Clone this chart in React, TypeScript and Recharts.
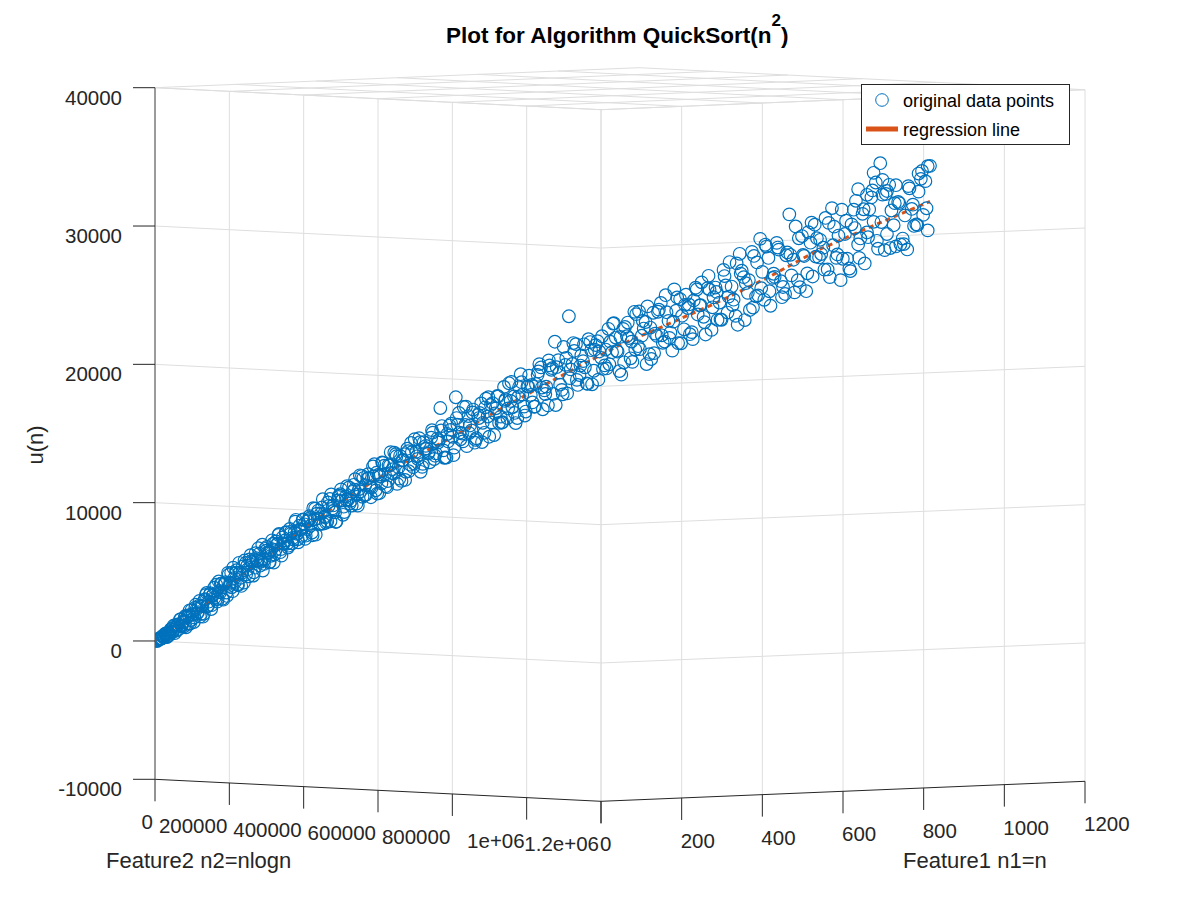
import React from 'react';
import { ScatterChart, Scatter, XAxis, YAxis, ReferenceLine, ReferenceDot, Legend } from 'recharts';

const FONT = '"Liberation Sans", Arial, Helvetica, sans-serif';
const INK = '#262626';
const GRID = '#dedede';
const BLUE = '#0072BD';
const ORANGE = '#D95319';

// input size n (feature1) and measured u(n); feature2 is n^2
const sizesLow = [
  2, 5, 8, 11, 14, 17, 20, 23, 26, 29,
  32, 35, 38, 41, 44, 47, 50, 53, 56, 59,
  62, 65, 68, 71, 74, 77, 80, 83, 86, 89,
  92, 95, 98, 101, 104, 107, 110, 113, 116, 119,
  122, 125, 128, 131, 134, 137, 140, 143, 146, 149,
  152, 155, 158, 161, 164, 167, 170, 173, 176, 179,
  182, 185, 188, 191, 194, 197, 200,
];
const runtimeLow = [
  20, 10, 93, 186, 139, 166, 357, 313, 511, 251,
  572, 475, 818, 623, 1049, 516, 944, 1132, 802, 1491,
  1062, 1253, 985, 1728, 1621, 1155, 2130, 1424, 1860, 1275,
  2312, 2209, 1986, 2790, 1840, 2405, 1850, 2900, 3350, 2440,
  3210, 2180, 3150, 3720, 2850, 2705, 4160, 3370, 4020, 2835,
  4015, 3345, 4770, 3820, 4765, 3435, 4385, 4765, 3910, 5480,
  4395, 4765, 4040, 5455, 5260, 4490, 6010,
];

const sizesLow2 = [
  3, 6, 9, 12, 15, 18, 21, 24, 27, 30,
  33, 36, 39, 42, 45, 48, 51, 54, 57, 60,
  63, 66, 69, 72, 75, 78, 81, 84, 87, 90,
  93, 96, 99, 102, 105, 108, 111, 114, 117, 120,
  123, 126, 129, 132, 135, 138, 141, 144, 147, 150,
  153, 156, 159, 162, 165, 168, 171, 174, 177, 180,
  183, 186, 189, 192, 195, 198,
];
const runtimeLow2 = [
  43, 5, 147, 138, 152, 316, 245, 462, 271, 501,
  343, 686, 820, 585, 771, 1098, 686, 1095, 1005, 1495,
  1006, 1318, 1610, 913, 1676, 1780, 1164, 2140, 1795, 1601,
  2518, 1874, 2432, 1650, 2430, 1640, 2845, 3215, 2385, 2715,
  3325, 2455, 3225, 2998, 3930, 2900, 3475, 4006, 2900, 3912,
  4099, 3100, 4619, 4048, 3715, 5140, 4094, 4950, 3858, 4761,
  3801, 5219, 5637, 4630, 5002, 5707,
];

const sizesA = [
  204, 208, 212, 216, 220, 224, 228, 232, 236, 240,
  244, 248, 252, 256, 260, 264, 268, 272, 276, 280,
  284, 288, 292, 296, 300, 304, 308, 312, 316, 320,
  324, 328, 332, 336, 340, 344, 348, 352, 356, 360,
  364, 368, 372, 376, 380, 384, 388, 392, 396, 400,
  404, 408, 412, 416, 420, 424, 428, 432, 436, 440,
  444, 448, 452, 456, 460, 464, 468, 472, 476, 480,
  484, 488, 492, 496, 500, 504, 508, 512, 516, 520,
  524, 528, 532, 536, 540, 544, 548, 552, 556, 560,
  564, 568, 572, 576, 580, 584, 588, 592, 596, 600,
  604, 608, 612, 616, 620, 624, 628, 632, 636, 640,
  644, 648, 652, 656, 660, 664, 668, 672, 676, 680,
  684, 688, 692, 696, 700, 704, 708, 712, 716, 720,
  724, 728, 732, 736, 740, 744, 748, 752, 756, 760,
  764, 768, 772, 776, 780, 784, 788, 792, 796, 800,
  804, 808, 812, 816, 820, 824, 828, 832, 836, 840,
  844, 848, 852, 856, 860, 864, 868, 872, 876, 880,
  884, 888, 892, 896, 900, 904, 908, 912, 916, 920,
  924, 928, 932, 936, 940, 944, 948, 952, 956, 960,
  964, 968, 972, 976, 980, 984, 988, 992, 996, 1000,
];
const runtimeA = [
  5524, 5104, 5658, 6118, 5609, 5370, 6321, 6139, 5945, 6823,
  6367, 6816, 6199, 7269, 7049, 6817, 7873, 6831, 7616, 7513,
  8098, 7366, 8198, 7840, 8780, 7597, 8548, 8956, 8225, 9411,
  8757, 8380, 10015, 9331, 9040, 9899, 10351, 8863, 10182, 9979,
  9881, 11028, 9667, 10718, 11672, 10260, 11469, 10869, 12356, 10621,
  11755, 11120, 12408, 10845, 12418, 12151, 13227, 12275, 11300, 13231,
  13628, 12470, 12292, 13408, 14394, 12315, 13603, 13269, 14432, 12882,
  14364, 16570, 13509, 12990, 15305, 14491, 17350, 16219, 14727, 15356,
  15993, 14958, 14070, 16077, 16906, 14787, 15967, 16810, 14630, 17453,
  15963, 18108, 15856, 17100, 17425, 15864, 19038, 16692, 18177, 17538,
  16691, 18997, 19541, 17879, 16797, 19371, 21400, 20073, 17924, 19734,
  23250, 19807, 21237, 19009, 20014, 18400, 21399, 19324, 21470, 20265,
  19721, 22367, 20678, 21742, 19322, 22371, 21854, 20252, 23614, 21130,
  21895, 22885, 20568, 23560, 21890, 24276, 21488, 22987, 20839, 23732,
  24573, 22390, 23933, 22190, 25409, 24128, 23310, 25383, 22371, 25436,
  24354, 26720, 23639, 25524, 23404, 27900, 26216, 25082, 28053, 24845,
  29000, 24597, 27626, 26189, 28725, 25958, 25039, 30800, 27524, 26044,
  29244, 25263, 28774, 30077, 27717, 28427, 26858, 31300, 27707, 26100,
  29442, 26951, 31207, 28698, 30920, 29577, 32122, 33200, 34600, 28324,
  33050, 30133, 31821, 29179, 28400, 31333, 30219, 33521, 33358, 34470,
];

const sizesB = [
  206, 210, 214, 218, 222, 226, 230, 234, 238, 242,
  246, 250, 254, 258, 262, 266, 270, 274, 278, 282,
  286, 290, 294, 298, 302, 306, 310, 314, 318, 322,
  326, 330, 334, 338, 342, 346, 350, 354, 358, 362,
  366, 370, 374, 378, 382, 386, 390, 394, 398, 402,
  406, 410, 414, 418, 422, 426, 430, 434, 438, 442,
  446, 450, 454, 458, 462, 466, 470, 474, 478, 482,
  486, 490, 494, 498, 502, 506, 510, 514, 518, 522,
  526, 530, 534, 538, 542, 546, 550, 554, 558, 562,
  566, 570, 574, 578, 582, 586, 590, 594, 598, 602,
  606, 610, 614, 618, 622, 626, 630, 634, 638, 642,
  646, 650, 654, 658, 662, 666, 670, 674, 678, 682,
  686, 690, 694, 698, 702, 706, 710, 714, 718, 722,
  726, 730, 734, 738, 742, 746, 750, 754, 758, 762,
  766, 770, 774, 778, 782, 786, 790, 794, 798, 802,
  806, 810, 814, 818, 822, 826, 830, 834, 838, 842,
  846, 850, 854, 858, 862, 866, 870, 874, 878, 882,
  886, 890, 894, 898, 902, 906, 910, 914, 918, 922,
  926, 930, 934, 938, 942, 946, 950, 954, 958, 962,
  966, 970, 974, 978, 982, 986, 990, 994, 998,
];
const runtimeB = [
  4771, 5789, 6506, 5524, 4892, 6461, 6180, 5499, 7068, 6037,
  6757, 7528, 5948, 6819, 7640, 6662, 7684, 7106, 8528, 6901,
  7824, 8548, 7371, 8494, 8088, 9353, 7437, 9182, 8946, 8231,
  8297, 9502, 10348, 9154, 8380, 10247, 9894, 9060, 10927, 9674,
  10522, 11429, 9517, 10545, 11513, 10322, 11530, 10819, 12508, 10387,
  11637, 12607, 10916, 12446, 11876, 13336, 11087, 13107, 12818, 11959,
  12000, 13372, 14323, 12895, 11956, 14099, 13651, 12644, 14786, 13289,
  14242, 15265, 12998, 14161, 15444, 13708, 15371, 14315, 16658, 13817,
  15312, 16466, 14391, 16225, 15510, 17260, 14505, 16935, 16560, 15505,
  15556, 17221, 18377, 16642, 15504, 18105, 17562, 16338, 18940, 17002,
  18339, 19776, 16513, 18150, 19687, 17624, 19561, 18299, 21036, 17673,
  19412, 20750, 18289, 20427, 19566, 21605, 18344, 21182, 20721, 19460,
  19499, 21438, 22778, 20717, 19061, 22516, 21715, 19995, 23449, 20920,
  22410, 24016, 20216, 22052, 23788, 21399, 23609, 22140, 25271, 21387,
  23368, 24889, 22040, 24482, 23473, 25800, 22033, 25280, 24732, 23099,
  23111, 25592, 27294, 24575, 22768, 26681, 25783, 23846, 27759, 24912,
  26615, 28449, 24172, 26266, 28239, 25543, 28046, 26390, 29933, 25552,
  27806, 29539, 26333, 29106, 27965, 30580, 26304, 29959, 29323, 27648,
  27663, 30148, 31854, 29139, 27334, 31249, 30354, 28419, 32334, 29489,
  31195, 33031, 28758, 30854, 32820, 30106, 32591, 30917, 34442,
];

const sizesC = [
  201, 205, 209, 213, 217, 221, 225, 229, 233, 237,
  241, 245, 249, 253, 257, 261, 265, 269, 273, 277,
  281, 285, 289, 293, 297, 301, 305, 309, 313, 317,
  321, 325, 329, 333, 337, 341, 345, 349, 353, 357,
  361, 365, 369, 373, 377, 381, 385, 389, 393, 397,
  401, 405, 409, 413, 417, 421, 425, 429, 433, 437,
  441, 445, 449, 453, 457, 461, 465, 469, 473, 477,
  481, 485, 489, 493, 497, 501, 505, 509, 513, 517,
  521, 525, 529, 533, 537, 541, 545, 549, 553, 557,
  561, 565, 569, 573, 577, 581, 585, 589, 593, 597,
];
const runtimeC = [
  5575, 4542, 6160, 5577, 5245, 6762, 5681, 6600, 5469, 6438,
  5457, 6977, 7447, 6418, 6838, 7609, 6531, 7503, 7225, 8397,
  7119, 7842, 8516, 7139, 8412, 8656, 7400, 9325, 8609, 8194,
  9998, 8684, 9769, 8395, 9541, 8346, 10153, 10700, 9447, 9933,
  10840, 9528, 10675, 10323, 11711, 10158, 11007, 11796, 10124, 11633,
  11892, 10412, 12642, 11791, 11291, 13381, 11831, 13081, 11462, 12782,
  11370, 13442, 14044, 12545, 13077, 14098, 12530, 13833, 13385, 14968,
  13120, 14073, 14956, 12969, 14692, 14985, 13164, 15847, 14791, 14159,
  16673, 14767, 16262, 14271, 15851, 14115, 16630, 17360, 15540, 16185,
  17425, 15521, 17101, 16557, 18477, 16234, 17390, 18460, 16048, 18140,
];

const sizesD = [
  601, 605, 609, 613, 617, 621, 625, 629, 633, 637,
  641, 645, 649, 653, 657, 661, 665, 669, 673, 677,
  681, 685, 689, 693, 697, 701, 705, 709, 713, 717,
  721, 725, 729, 733, 737, 741, 745, 749, 753, 757,
  761, 765, 769, 773, 777, 781, 785, 789, 793, 797,
  801, 805, 809, 813, 817, 821, 825, 829, 833, 837,
  841, 845, 849, 853, 857, 861, 865, 869, 873, 877,
  881, 885, 889, 893, 897, 901, 905, 909, 913, 917,
  921, 925, 929, 933, 937, 941, 945, 949, 953, 957,
  961, 965, 969, 973, 977, 981, 985, 989, 993, 997,
];
const runtimeD = [
  18268, 16705, 19242, 18079, 17616, 20053, 19490, 16827, 19165, 17602,
  20239, 18777, 21316, 18654, 19693, 21231, 18370, 20809, 20848, 18686,
  21825, 20864, 19803, 22743, 20782, 21791, 19956, 22835, 21460, 20889,
  23652, 22958, 19848, 22489, 20644, 23637, 21938, 24839, 21759, 22935,
  24686, 21377, 24163, 24189, 21686, 25277, 24154, 22916, 26279, 24006,
  25118, 23135, 26276, 24793, 24184, 27202, 26470, 23113, 26005, 24023,
  27291, 25434, 28578, 25221, 26490, 28388, 24802, 27840, 27879, 25167,
  29083, 27882, 26555, 30229, 27777, 28994, 26843, 30228, 28617, 27952,
  31201, 30401, 26766, 29882, 27732, 31252, 29237, 32622, 28987, 30347,
  32382, 28478, 31729, 31740, 28782, 32978, 31639, 30164, 34090, 31400,
];

// repeated runs near the top end
const sizesTop = [936, 944, 950, 958, 962, 970, 990, 998];
const runtimeTop = [32700, 32300, 33900, 33400, 32600, 28600, 33900, 29800];

// fitted regression values
const fitN = [0, 50, 100, 150, 200, 250, 300, 350, 400, 450, 500, 550, 600, 650, 700, 750, 800, 850, 900, 950, 1000];
const fitU = [0, 900, 2150, 3550, 5050, 6600, 8200, 9800, 11400, 12950, 14350, 16050, 17730, 19450, 21190, 22700, 24300, 26150, 28280, 30090, 31900];

const uTicks = [-10000, 0, 10000, 20000, 30000, 40000];
const f1Ticks = [0, 200, 400, 600, 800, 1000, 1200];
const f1Labels = ['0', '200', '400', '600', '800', '1000', '1200'];
const f2Ticks = [0, 200000, 400000, 600000, 800000, 1000000, 1200000];
const f2Labels = ['0', '200000', '400000', '600000', '800000', '1e+06', '1.2e+06'];

const F1_MAX = 1200;
const F2_MAX = 1200000;
const U_MIN = -10000;
const U_MAX = 40000;

// 3d view: how far (in px) each floor edge runs across and drops on screen
const PX_PER_U = 0.013832;
const F1_RUN = 484;
const F1_DROP = -20;
const F2_RUN = 446;
const F2_DROP = 22;
const TICK_U = 22 / PX_PER_U;

const projX = (f1: number, f2: number) => (F1_RUN * f1) / F1_MAX + (F2_RUN * f2) / F2_MAX;
const projU = (f1: number, f2: number, u: number) =>
  u - ((F2_DROP * f2) / F2_MAX + (F1_DROP * f1) / F1_MAX) / PX_PER_U;
const pt = (f1: number, f2: number, u: number) => ({ x: projX(f1, f2), y: projU(f1, f2, u) });

const allSizes = [...sizesLow, ...sizesLow2, ...sizesA, ...sizesB, ...sizesC, ...sizesD, ...sizesTop];
const allRuntime = [...runtimeLow, ...runtimeLow2, ...runtimeA, ...runtimeB, ...runtimeC, ...runtimeD, ...runtimeTop];
const pointData = allSizes.map((n, i) => pt(n, n * n, allRuntime[i]));
const fitData = fitN.map((n, i) => pt(n, n * n, fitU[i]));

type Seg = [{ x: number; y: number }, { x: number; y: number }];

const gridSegs: Seg[] = [];
uTicks.filter((u) => u > U_MIN).forEach((u) => {
  gridSegs.push([pt(0, 0, u), pt(0, F2_MAX, u)]);
  gridSegs.push([pt(0, F2_MAX, u), pt(F1_MAX, F2_MAX, u)]);
});
f2Ticks.forEach((s) => {
  gridSegs.push([pt(0, s, U_MIN), pt(0, s, U_MAX)]);
  gridSegs.push([pt(0, s, U_MAX), pt(F1_MAX, s, U_MAX)]);
});
f1Ticks.forEach((t) => {
  gridSegs.push([pt(t, F2_MAX, U_MIN), pt(t, F2_MAX, U_MAX)]);
  gridSegs.push([pt(t, 0, U_MAX), pt(t, F2_MAX, U_MAX)]);
});

const axisSegs: Seg[] = [
  [pt(0, 0, U_MIN), pt(0, F2_MAX, U_MIN)],
  [pt(0, F2_MAX, U_MIN), pt(F1_MAX, F2_MAX, U_MIN)],
];
f2Ticks.forEach((s) => axisSegs.push([pt(0, s, U_MIN), pt(0, s, U_MIN - TICK_U)]));
f1Ticks.forEach((t) => axisSegs.push([pt(t, F2_MAX, U_MIN), pt(t, F2_MAX, U_MIN - TICK_U)]));

const renderUTick = (props: any) => (
  <text x={props.x} y={props.y + 17} textAnchor="end" fontSize={20.5} fontFamily={FONT} fill={INK}>
    {props.payload.value}
  </text>
);

const renderLegend = () => (
  <div style={{ width: 209, height: 61, boxSizing: 'border-box', border: `1px solid ${INK}`, background: '#fff' }}>
    <svg width={207} height={59} style={{ display: 'block' }}>
      <circle cx={20} cy={15} r={6.3} fill="none" stroke={BLUE} strokeWidth={1} />
      <text x={41} y={21.5} fontSize={18} fontFamily={FONT} fill="#000">original data points</text>
      <line x1={4} x2={36} y1={44} y2={44} stroke={ORANGE} strokeWidth={5} />
      <text x={41} y={50.5} fontSize={18} fontFamily={FONT} fill="#000">regression line</text>
    </svg>
  </div>
);

export default function App() {
  return (
    <div style={{ position: 'absolute', left: 0, top: 0, width: 1200, height: 900, background: '#fff' }}>
      <ScatterChart width={1200} height={900} margin={{ top: 87.7, right: 115, bottom: 120.7, left: 95 }}>
        <XAxis type="number" dataKey="x" domain={[0, 930]} hide allowDataOverflow />
        <YAxis
          type="number"
          dataKey="y"
          domain={[U_MIN, U_MAX]}
          ticks={uTicks}
          interval={0}
          allowDataOverflow
          width={60}
          tickSize={22}
          tickMargin={11}
          axisLine={{ stroke: '#7f7f7f', strokeWidth: 1.5 }}
          tickLine={{ stroke: INK }}
          tick={renderUTick}
        />
        {gridSegs.map((s, i) => (
          <ReferenceLine key={`g${i}`} segment={s} stroke={GRID} strokeWidth={1} ifOverflow="visible" />
        ))}
        {axisSegs.map((s, i) => (
          <ReferenceLine key={`a${i}`} segment={s} stroke={INK} strokeWidth={1} ifOverflow="visible" />
        ))}
        {f2Ticks.map((s, i) => (
          <ReferenceDot
            key={`f2${i}`}
            x={projX(0, s)}
            y={projU(0, s, U_MIN)}
            r={0}
            ifOverflow="visible"
            shape={(p: any) => (
              <text x={p.cx - 2} y={p.cy + 50} textAnchor="end" fontSize={20.5} fontFamily={FONT} fill={INK}>
                {f2Labels[i]}
              </text>
            )}
          />
        ))}
        {f1Ticks.map((t, i) => (
          <ReferenceDot
            key={`f1${i}`}
            x={projX(t, F2_MAX)}
            y={projU(t, F2_MAX, U_MIN)}
            r={0}
            ifOverflow="visible"
            shape={(p: any) => (
              <text x={p.cx - 1} y={p.cy + 50} textAnchor="start" fontSize={20.5} fontFamily={FONT} fill={INK}>
                {f1Labels[i]}
              </text>
            )}
          />
        ))}
        <Scatter
          name="regression line"
          data={fitData}
          line={{ stroke: ORANGE, strokeWidth: 3, strokeDasharray: '5 4' }}
          lineType="joint"
          shape={() => <g />}
          legendType="line"
          isAnimationActive={false}
        />
        <Scatter
          name="original data points"
          data={pointData}
          shape={(p: any) => <circle cx={p.cx} cy={p.cy} r={6.3} fill="none" stroke={BLUE} strokeWidth={1.2} />}
          isAnimationActive={false}
        />
        <Legend
          layout="vertical"
          align="center"
          verticalAlign="middle"
          wrapperStyle={{ left: 861, top: 84, width: 209, height: 61 }}
          content={renderLegend}
        />
      </ScatterChart>
      <svg width={1200} height={900} style={{ position: 'absolute', left: 0, top: 0, pointerEvents: 'none' }}>
        <text x={446} y={43} fontSize={22.5} fontWeight="bold" fontFamily={FONT} fill="#000">
          Plot for Algorithm QuickSort(n
          <tspan fontSize={17} dy={-17}>2</tspan>
          <tspan dy={17}>)</tspan>
        </text>
        <text x={106} y={868} fontSize={22} fontFamily={FONT} fill={INK}>Feature2 n2=nlogn</text>
        <text x={903} y={868} fontSize={22} fontFamily={FONT} fill={INK}>Feature1 n1=n</text>
        <text transform="translate(43,445) rotate(-90)" textAnchor="middle" fontSize={22} fontFamily={FONT} fill={INK}>
          u(n)
        </text>
      </svg>
    </div>
  );
}
